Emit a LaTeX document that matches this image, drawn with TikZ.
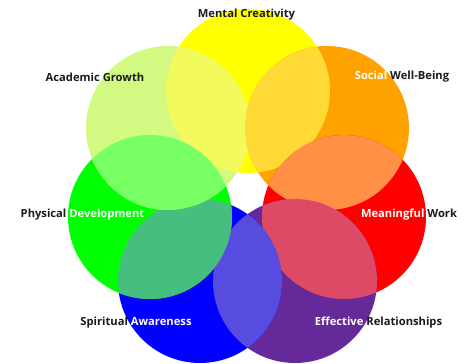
\documentclass[tikz,border=0pt]{standalone}
\usepackage{fontspec}
\setmainfont{Open Sans}
\definecolor{cyellow}{HTML}{FFFF00}
\definecolor{corange}{HTML}{FFA200}
\definecolor{cred}{HTML}{FF0000}
\definecolor{cpurple}{HTML}{66299A}
\definecolor{cblue}{HTML}{0000FF}
\definecolor{cgreen}{HTML}{00FF00}
\definecolor{clight}{HTML}{D2FA82}
\definecolor{lYL}{HTML}{F2FA5C}
\definecolor{lYO}{HTML}{FFD936}
\definecolor{lOR}{HTML}{FF9046}
\definecolor{lRP}{HTML}{DC4A66}
\definecolor{lPB}{HTML}{584CE0}
\definecolor{lBG}{HTML}{45BE7E}
\definecolor{lGL}{HTML}{78FF64}
\definecolor{labelblack}{HTML}{1A1A1A}
\begin{document}
\begin{tikzpicture}[x=1pt,y=-1pt,
  disc/.style={circle, minimum size=164pt, inner sep=0pt, draw=none},
  lbl/.style={font=\bfseries\fontsize{11.2}{13}\selectfont, text=labelblack, inner sep=0pt}]
\useasboundingbox (0,0) rectangle (474,364);
\coordinate (cY) at (248,91);
\coordinate (cO) at (327,128);
\coordinate (cR) at (344,217);
\coordinate (cP) at (295,281);
\coordinate (cB) at (200,281);
\coordinate (cG) at (150,217);
\coordinate (cL) at (168,128);
\node[disc, fill=cyellow] (yellow) at (cY) {};
\node[disc, fill=corange] (orange) at (cO) {};
\node[disc, fill=cred] (red) at (cR) {};
\node[disc, fill=cpurple] (purple) at (cP) {};
\node[disc, fill=cblue] (blue) at (cB) {};
\node[disc, fill=cgreen] (green) at (cG) {};
\node[disc, fill=clight] (light) at (cL) {};
\begin{scope}\clip (cY) circle (82pt); \fill[lYL] (cL) circle (82pt);\end{scope}
\begin{scope}\clip (cY) circle (82pt); \fill[lYO] (cO) circle (82pt);\end{scope}
\begin{scope}\clip (cO) circle (82pt); \fill[lOR] (cR) circle (82pt);\end{scope}
\begin{scope}\clip (cR) circle (82pt); \fill[lRP] (cP) circle (82pt);\end{scope}
\begin{scope}\clip (cP) circle (82pt); \fill[lPB] (cB) circle (82pt);\end{scope}
\begin{scope}\clip (cB) circle (82pt); \fill[lBG] (cG) circle (82pt);\end{scope}
\begin{scope}\clip (cG) circle (82pt); \fill[lGL] (cL) circle (82pt);\end{scope}
\node[lbl] (t1) at (246.5,15) {Mental Creativity};
\node[lbl] (t2) at (95,77) {Academic Growth};
\node[lbl] (t3) at (402,77) {\textcolor{white}{Social} Well-Being};
\node[lbl] (t4) at (82.5,215) {Physical \textcolor{white}{Development}};
\node[lbl] (t5) at (409,215) {\textcolor{white}{Meaningful} Work};
\node[lbl] (t6) at (136,323) {Spiritual \textcolor{white}{Awareness}};
\node[lbl] (t7) at (378.5,323) {\textcolor{white}{Effective} Relationships};
\end{tikzpicture}
\end{document}
